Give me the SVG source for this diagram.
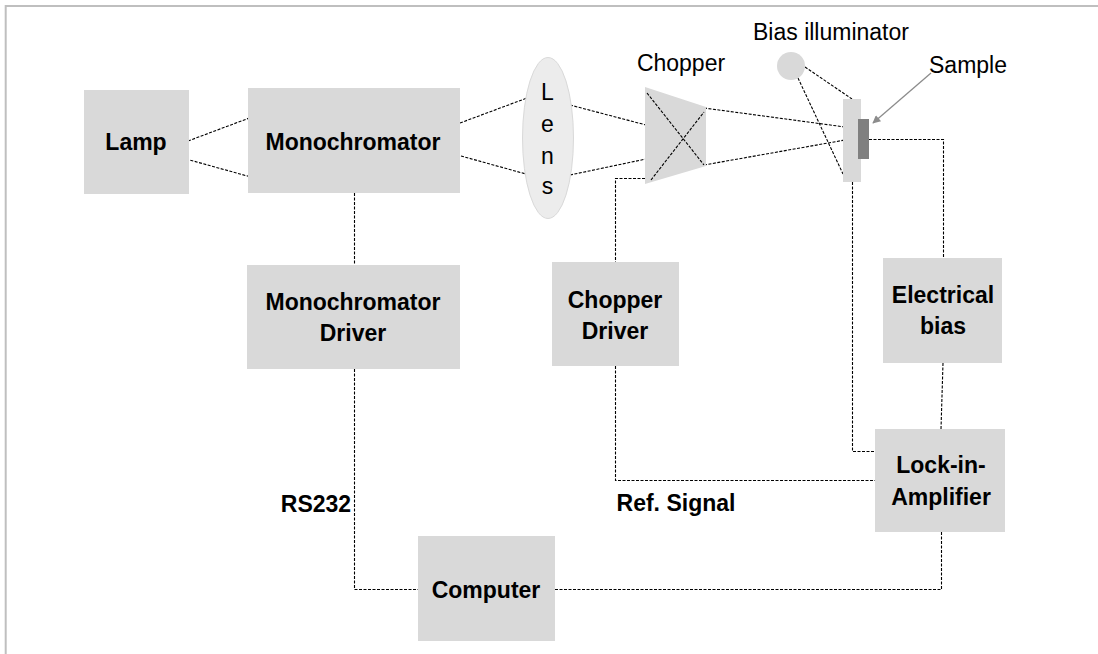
<svg xmlns="http://www.w3.org/2000/svg" width="1098" height="654" viewBox="0 0 1098 654">
<defs>
<style>
.box{fill:#d9d9d9;}
.b{font-family:"Liberation Sans",Arial,sans-serif;font-weight:bold;font-size:23px;fill:#000;text-anchor:middle;}
.r{font-family:"Liberation Sans",Arial,sans-serif;font-size:23px;fill:#000;text-anchor:middle;}
.c{fill:none;stroke:#000;stroke-width:1.1;stroke-dasharray:3,1.5;}
</style>
<marker id="ah" viewBox="0 0 10 10" refX="9" refY="5" markerWidth="10" markerHeight="8" markerUnits="userSpaceOnUse" orient="auto">
<path d="M0,0 L10,5 L0,10 z" fill="#8c8c8c"/>
</marker>
</defs>
<rect width="1098" height="654" fill="#fff"/>
<polyline points="5.7,654 5.7,6 1098,6" fill="none" stroke="#bfbfbf" stroke-width="2"/>

<g id="connectors">
<line class="c" x1="188" y1="141" x2="252" y2="117"/>
<line class="c" x1="186" y1="159" x2="251" y2="177"/>
<line class="c" x1="460" y1="123" x2="527" y2="98"/>
<line class="c" x1="461" y1="156" x2="526" y2="174"/>
<line class="c" x1="570" y1="105" x2="646" y2="125"/>
<line class="c" x1="570" y1="175" x2="646" y2="159"/>
<line class="c" x1="704" y1="108" x2="845" y2="127"/>
<line class="c" x1="704" y1="165" x2="845" y2="140"/>
<line class="c" x1="805" y1="67" x2="852" y2="99"/>
<line class="c" x1="798" y1="78" x2="843" y2="174"/>
<polyline class="c" points="354.5,193 354.5,265"/>
<polyline class="c" points="354.5,369 354.5,589.5 418,589.5"/>
<polyline class="c" points="555,589.5 941.5,589.5 941.5,532"/>
<polyline class="c" points="645,178.5 615.5,178.5 615.5,262"/>
<polyline class="c" points="615.5,366 615.5,480.5 876,480.5"/>
<polyline class="c" points="852.5,182 852.5,451.5 877,451.5"/>
<polyline class="c" points="869,139.5 943.5,139.5 943.5,258"/>
<line class="c" x1="943" y1="363" x2="941" y2="429"/>
<line x1="931" y1="73" x2="873" y2="123" stroke="#8c8c8c" stroke-width="1.3" marker-end="url(#ah)"/>
</g>

<g id="lamp">
<rect class="box" x="84" y="90" width="105" height="104"/>
<text class="b" x="136" y="150">Lamp</text>
</g>
<g id="monochromator">
<rect class="box" x="248" y="88" width="212" height="105"/>
<text class="b" x="353" y="150">Monochromator</text>
</g>
<g id="lens">
<ellipse cx="548" cy="138" rx="25.5" ry="80.5" fill="#ececec" stroke="#d9d9d9" stroke-width="1"/>
<text class="r" x="547.5" y="100">L</text>
<text class="r" x="547.5" y="132">e</text>
<text class="r" x="547.5" y="164">n</text>
<text class="r" x="547.5" y="194">s</text>
</g>
<g id="chopper">
<polygon points="645,87 706,107 706,166 645,184" fill="#d9d9d9"/>
<line class="c" x1="647" y1="93" x2="704" y2="165"/>
<line class="c" x1="651" y1="180" x2="704" y2="112"/>
<text class="r" x="681" y="71">Chopper</text>
</g>
<g id="bias-illuminator">
<circle cx="791" cy="66" r="14" fill="#d9d9d9"/>
<text class="r" x="831" y="40">Bias illuminator</text>
</g>
<g id="sample">
<rect x="843" y="99" width="18" height="83" fill="#d9d9d9"/>
<rect x="858" y="119" width="11" height="40" fill="#808080"/>
<text class="r" x="968" y="73">Sample</text>
</g>
<g id="monochromator-driver">
<rect class="box" x="247" y="265" width="213" height="104"/>
<text class="b" x="353" y="310">Monochromator</text>
<text class="b" x="353" y="341">Driver</text>
</g>
<g id="chopper-driver">
<rect class="box" x="552" y="262" width="127" height="104"/>
<text class="b" x="615" y="308">Chopper</text>
<text class="b" x="615" y="339">Driver</text>
</g>
<g id="electrical-bias">
<rect class="box" x="883" y="258" width="119" height="105"/>
<text class="b" x="943" y="303">Electrical</text>
<text class="b" x="943" y="334">bias</text>
</g>
<g id="lock-in-amplifier">
<rect class="box" x="875" y="429" width="130" height="103"/>
<text class="b" x="941" y="473">Lock-in-</text>
<text class="b" x="941" y="505">Amplifier</text>
</g>
<g id="computer">
<rect class="box" x="418" y="536" width="137" height="105"/>
<text class="b" x="486" y="598">Computer</text>
</g>
<g id="labels">
<text class="b" x="316" y="512">RS232</text>
<text class="b" x="676" y="511">Ref. Signal</text>
</g>
</svg>
